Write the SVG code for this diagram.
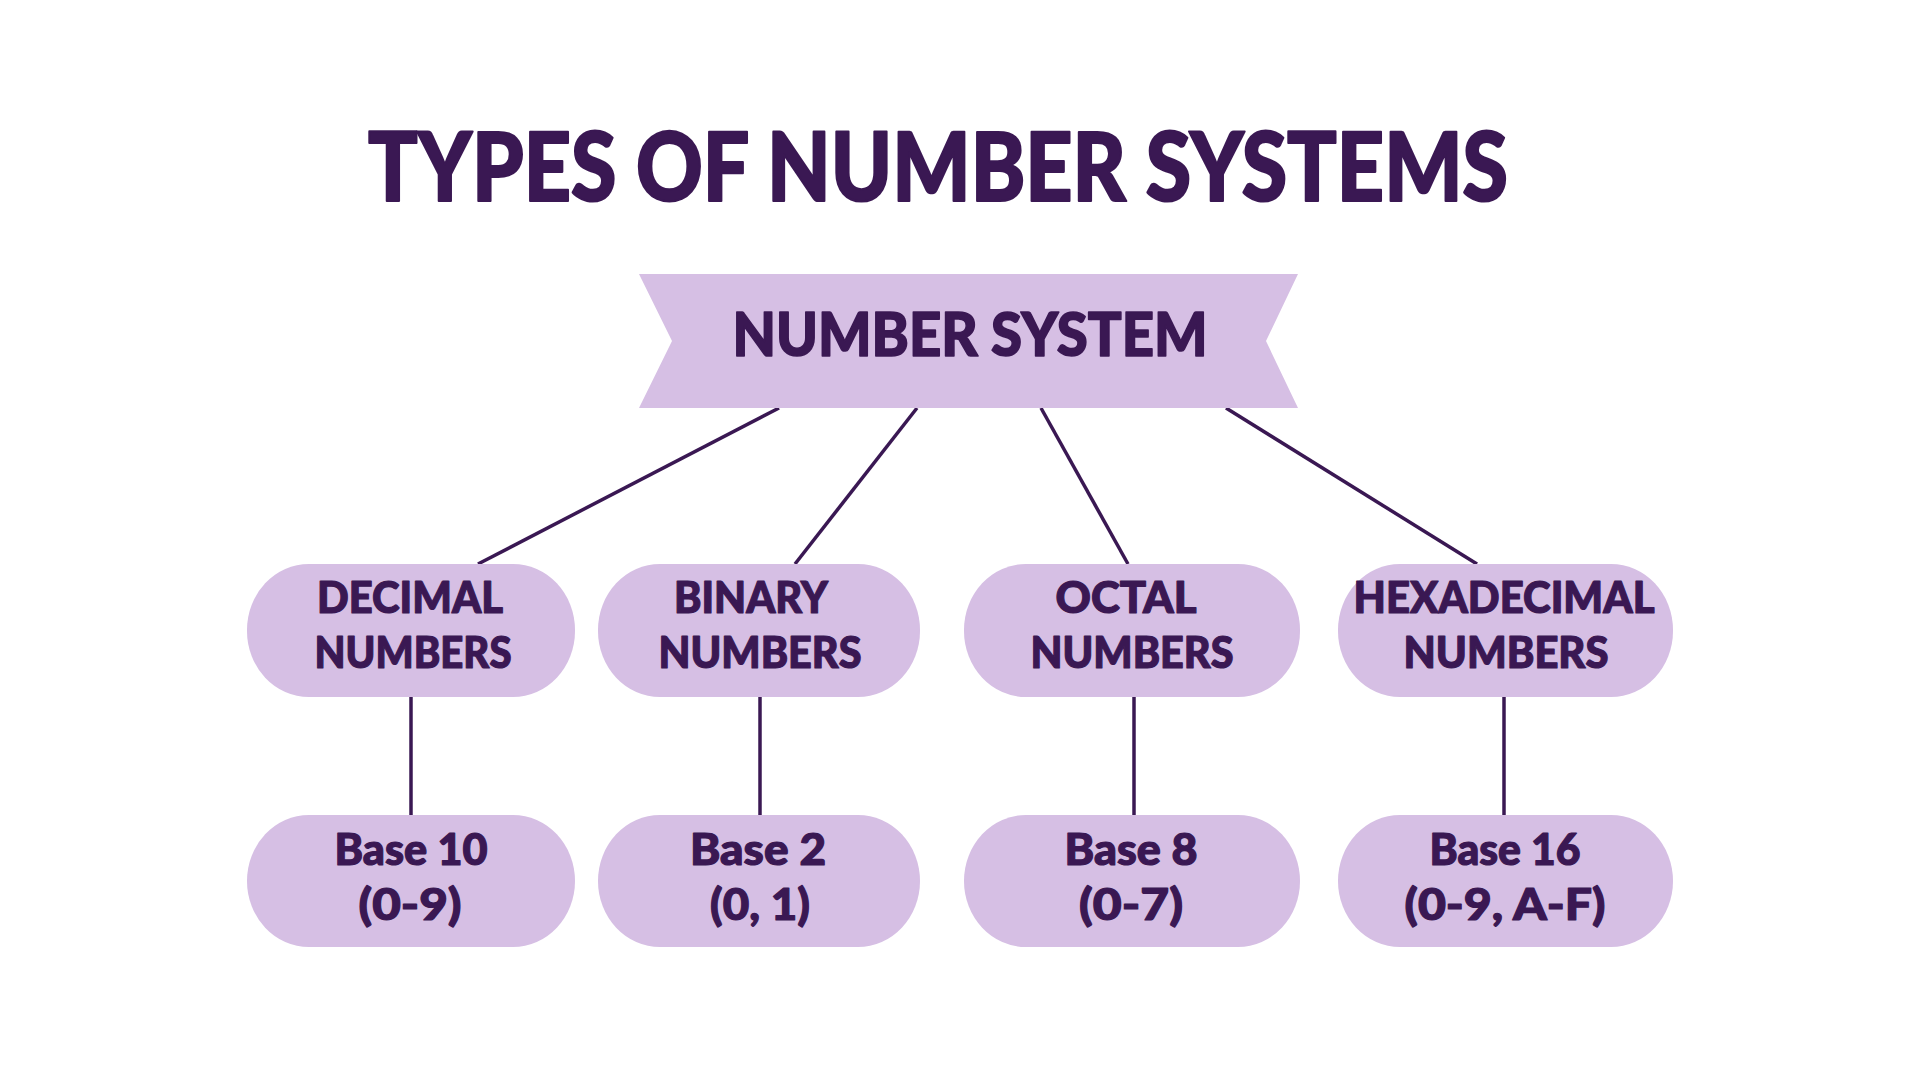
<svg xmlns="http://www.w3.org/2000/svg" width="1920" height="1080" viewBox="0 0 1920 1080">
<style>
.bg{fill:#ffffff}
.node{fill:#D6BFE4}
.t{fill:#3A1853;stroke:#3A1853;stroke-linejoin:round;font-family:Lato,"Liberation Sans",sans-serif;font-weight:900;text-anchor:middle}
.title{font-size:95px;stroke-width:2.2}
.ban{font-size:61px;stroke-width:1.6}
.lbl{font-size:43px;stroke-width:1.2}
.lbl2{font-size:44px;stroke-width:1.2}
.con{stroke:#3A1853;stroke-width:3.5;fill:none}
</style>
<rect class="bg" x="0" y="0" width="1920" height="1080"/>
<text id="title" class="t title" x="938" y="201" textLength="1140" lengthAdjust="spacingAndGlyphs">TYPES OF NUMBER SYSTEMS</text>
<g id="connectors">
<line class="con" x1="779" y1="408" x2="478" y2="564"/>
<line class="con" x1="917" y1="408" x2="795" y2="564"/>
<line class="con" x1="1041" y1="408" x2="1128" y2="564"/>
<line class="con" x1="1226" y1="408" x2="1477" y2="564"/>
<line class="con" x1="411" y1="697" x2="411" y2="815"/>
<line class="con" x1="760" y1="697" x2="760" y2="815"/>
<line class="con" x1="1134" y1="697" x2="1134" y2="815"/>
<line class="con" x1="1504" y1="697" x2="1504" y2="815"/>
</g>
<g id="root">
<polygon class="node" points="639,274 1298,274 1266,341 1298,408 639,408 672,341"/>
<text class="t ban" x="970" y="356" textLength="475" lengthAdjust="spacingAndGlyphs">NUMBER SYSTEM</text>
</g>
<g id="decimal">
<rect class="node" x="247" y="564" width="328" height="133" rx="62" ry="66"/>
<text class="t lbl" x="410" y="613" textLength="186" lengthAdjust="spacingAndGlyphs">DECIMAL</text>
<text class="t lbl" x="413" y="668" textLength="197" lengthAdjust="spacingAndGlyphs">NUMBERS</text>
</g>
<g id="binary">
<rect class="node" x="598" y="564" width="322" height="133" rx="62" ry="66"/>
<text class="t lbl" x="751" y="613" textLength="154" lengthAdjust="spacingAndGlyphs">BINARY</text>
<text class="t lbl" x="760" y="668" textLength="203" lengthAdjust="spacingAndGlyphs">NUMBERS</text>
</g>
<g id="octal">
<rect class="node" x="964" y="564" width="336" height="133" rx="62" ry="66"/>
<text class="t lbl" x="1126" y="613" textLength="141" lengthAdjust="spacingAndGlyphs">OCTAL</text>
<text class="t lbl" x="1132" y="668" textLength="203" lengthAdjust="spacingAndGlyphs">NUMBERS</text>
</g>
<g id="hexadecimal">
<rect class="node" x="1338" y="564" width="335" height="133" rx="62" ry="66"/>
<text class="t lbl" x="1504" y="613" textLength="301" lengthAdjust="spacingAndGlyphs">HEXADECIMAL</text>
<text class="t lbl" x="1506" y="668" textLength="205" lengthAdjust="spacingAndGlyphs">NUMBERS</text>
</g>
<g id="base10">
<rect class="node" x="247" y="815" width="328" height="132" rx="62" ry="66"/>
<text class="t lbl2" x="411" y="865" textLength="153" lengthAdjust="spacingAndGlyphs">Base 10</text>
<text class="t lbl2" x="410" y="920" textLength="103" lengthAdjust="spacingAndGlyphs">(0-9)</text>
</g>
<g id="base2">
<rect class="node" x="598" y="815" width="322" height="132" rx="62" ry="66"/>
<text class="t lbl2" x="758" y="865" textLength="136" lengthAdjust="spacingAndGlyphs">Base 2</text>
<text class="t lbl2" x="760" y="920" textLength="100" lengthAdjust="spacingAndGlyphs">(0, 1)</text>
</g>
<g id="base8">
<rect class="node" x="964" y="815" width="336" height="132" rx="62" ry="66"/>
<text class="t lbl2" x="1131" y="865" textLength="133" lengthAdjust="spacingAndGlyphs">Base 8</text>
<text class="t lbl2" x="1131" y="920" textLength="104" lengthAdjust="spacingAndGlyphs">(0-7)</text>
</g>
<g id="base16">
<rect class="node" x="1338" y="815" width="335" height="132" rx="62" ry="66"/>
<text class="t lbl2" x="1505" y="865" textLength="151" lengthAdjust="spacingAndGlyphs">Base 16</text>
<text class="t lbl2" x="1505" y="920" textLength="201" lengthAdjust="spacingAndGlyphs">(0-9, A-F)</text>
</g>
</svg>
